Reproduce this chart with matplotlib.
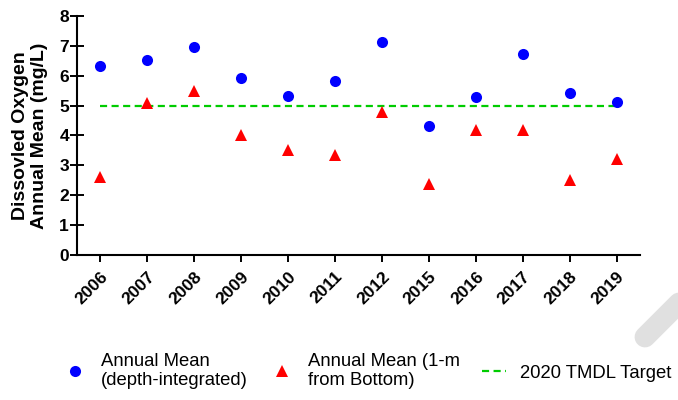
import matplotlib
matplotlib.use("Agg")
from matplotlib import pyplot as plt
from matplotlib.lines import Line2D
import numpy as np

plt.rcParams["font.family"] = ["Liberation Sans", "DejaVu Sans"]

# Annual dissolved oxygen means by year
years = ["2006", "2007", "2008", "2009", "2010", "2011",
         "2012", "2015", "2016", "2017", "2018", "2019"]
depth_integrated = [6.33, 6.53, 6.95, 5.92, 5.33, 5.82,
                    7.12, 4.33, 5.30, 6.72, 5.42, 5.13]
one_m_bottom = [2.62, 5.09, 5.49, 4.00, 3.50, 3.34,
                4.79, 2.38, 4.17, 4.17, 2.51, 3.20]
tmdl_target = 5.0

W, H = 678, 400
fig = plt.figure(figsize=(W / 100, H / 100), dpi=100)
ax = fig.add_axes([77 / W, 1 - 255 / H, (640 - 77) / W, (255 - 16) / H])

x = np.arange(len(years))
ax.plot(x, depth_integrated, "o", color="#0000ff", ms=8, mew=0,
        label="Annual Mean\n(depth-integrated)", zorder=3)
ax.plot(x, one_m_bottom, "^", color="#ff0000", ms=8, mew=0,
        label="Annual Mean (1-m\nfrom Bottom)", zorder=3)
ax.plot([x[0], x[-1]], [tmdl_target, tmdl_target], color="#00cc00", lw=1.6,
        linestyle=(0, (3.2, 2.0)), label="2020 TMDL Target", zorder=2)

ax.set_xlim(-0.5, len(years) - 0.5)
ax.set_ylim(0, 8)
ax.set_yticks(range(0, 9))
ax.set_xticks(x)
ax.set_xticklabels(years, rotation=45, ha="right", rotation_mode="anchor",
                   fontsize=12.5, fontweight="bold")
for lbl in ax.get_yticklabels():
    lbl.set_fontsize(12.5)
    lbl.set_fontweight("bold")

ax.spines["top"].set_visible(False)
ax.spines["right"].set_visible(False)
for s in ("left", "bottom"):
    ax.spines[s].set_linewidth(1.5)
ax.tick_params(axis="y", direction="inout", length=9.5, width=1.4, pad=1)
ax.tick_params(axis="x", direction="out", length=5, width=1.4, pad=5)

ax.set_ylabel("Dissovled Oxygen\nAnnual Mean (mg/L)", fontsize=14,
              fontweight="bold", labelpad=8)

# light grey watermark strokes
band = Line2D([645 / W, 720 / W], [1 - 337 / H, 1 - 262 / H],
              transform=fig.transFigure, color="#e0e0e0", lw=15,
              solid_capstyle="round", zorder=0)
fig.add_artist(band)
band2 = Line2D([581 / W, 550 / W], [1 - 407 / H, 1 - 438 / H],
               transform=fig.transFigure, color="#e0e0e0", lw=15,
               solid_capstyle="round", zorder=0)
fig.add_artist(band2)

fig.legend(loc="center", bbox_to_anchor=(367 / W, 1 - 371 / H), ncol=3,
           frameon=False, fontsize=13.3, handlelength=1.3,
           handletextpad=0.75, columnspacing=1.2)

fig.savefig("out.png", dpi=100)
